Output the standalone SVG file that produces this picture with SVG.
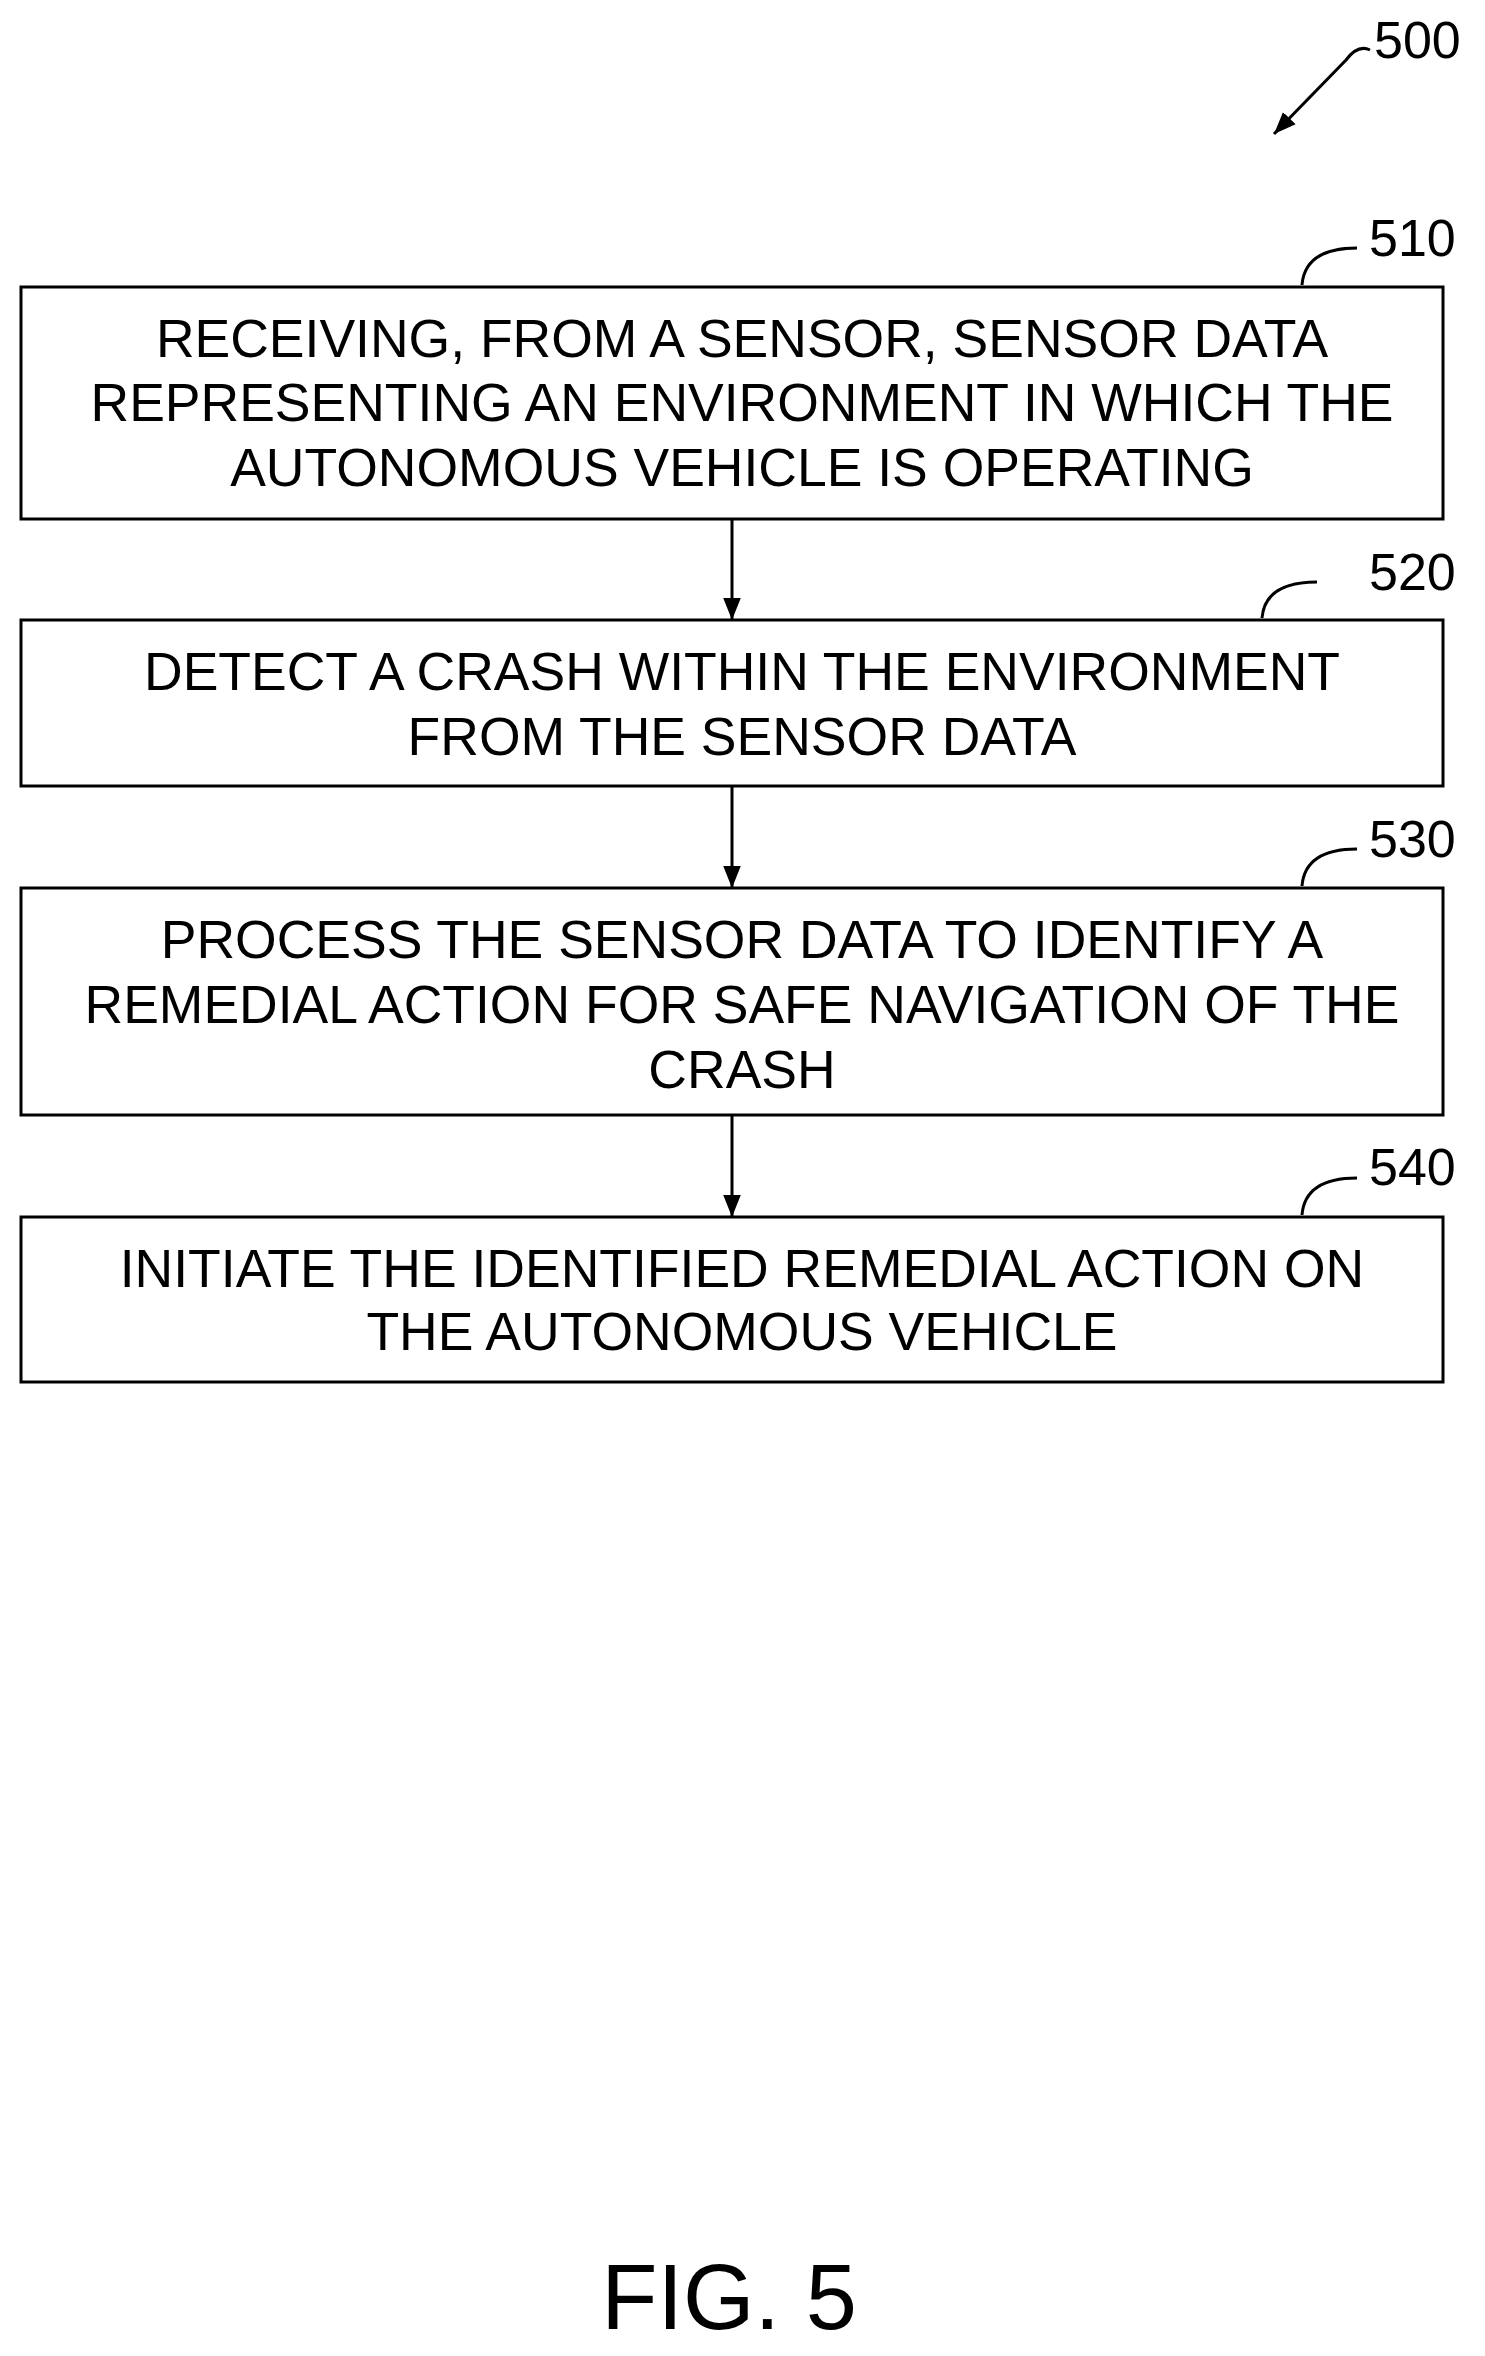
<svg xmlns="http://www.w3.org/2000/svg" width="1485" height="2356" viewBox="0 0 1485 2356">
<style>
.b{fill:#fff;stroke:#000;stroke-width:3}
.t{font-family:"Liberation Sans",Arial,sans-serif;font-size:53.5px;text-anchor:middle}
.l{font-family:"Liberation Sans",Arial,sans-serif;font-size:52px}
.c{fill:none;stroke:#000;stroke-width:3}
</style>
<defs><marker id="h" viewBox="0 0 10 10" refX="10" refY="5" markerWidth="22" markerHeight="22" orient="auto" markerUnits="userSpaceOnUse"><path d="M0,1L10,5L0,9z"/></marker></defs>
<rect width="1485" height="2356" fill="#fff"/>
<g id="n500"><text class="l" x="1374" y="58">500</text><path class="c" d="M1370,50 Q1358,44 1346,60 L1274,134" marker-end="url(#h)"/></g>
<g id="n510"><rect class="b" x="21" y="287" width="1422" height="232"/>
<text class="t" x="742" y="357">RECEIVING, FROM A SENSOR, SENSOR DATA</text>
<text class="t" x="742" y="421">REPRESENTING AN ENVIRONMENT IN WHICH THE</text>
<text class="t" x="742" y="486">AUTONOMOUS VEHICLE IS OPERATING</text>
<text class="l" x="1369" y="256">510</text><path class="c" d="M1302,285 Q1305,248 1357,248"/></g>
<g id="n520"><rect class="b" x="21" y="620" width="1422" height="166"/>
<text class="t" x="742" y="690">DETECT A CRASH WITHIN THE ENVIRONMENT</text>
<text class="t" x="742" y="755">FROM THE SENSOR DATA</text>
<text class="l" x="1369" y="590">520</text><path class="c" d="M1262,618 Q1265,582 1317,582"/></g>
<g id="n530"><rect class="b" x="21" y="888" width="1422" height="227"/>
<text class="t" x="742" y="958">PROCESS THE SENSOR DATA TO IDENTIFY A</text>
<text class="t" x="742" y="1023">REMEDIAL ACTION FOR SAFE NAVIGATION OF THE</text>
<text class="t" x="742" y="1088">CRASH</text>
<text class="l" x="1369" y="857">530</text><path class="c" d="M1302,886 Q1305,849 1357,849"/></g>
<g id="n540"><rect class="b" x="21" y="1217" width="1422" height="165"/>
<text class="t" x="742" y="1287">INITIATE THE IDENTIFIED REMEDIAL ACTION ON</text>
<text class="t" x="742" y="1350">THE AUTONOMOUS VEHICLE</text>
<text class="l" x="1369" y="1185">540</text><path class="c" d="M1302,1215 Q1305,1178 1357,1178"/></g>
<g id="connectors">
<path class="c" d="M732,519V620" marker-end="url(#h)"/>
<path class="c" d="M732,786V888" marker-end="url(#h)"/>
<path class="c" d="M732,1115V1217" marker-end="url(#h)"/>
</g>
<text x="729" y="2329" style="font-family:'Liberation Sans',Arial,sans-serif;font-size:92px;text-anchor:middle">FIG. 5</text>
</svg>
